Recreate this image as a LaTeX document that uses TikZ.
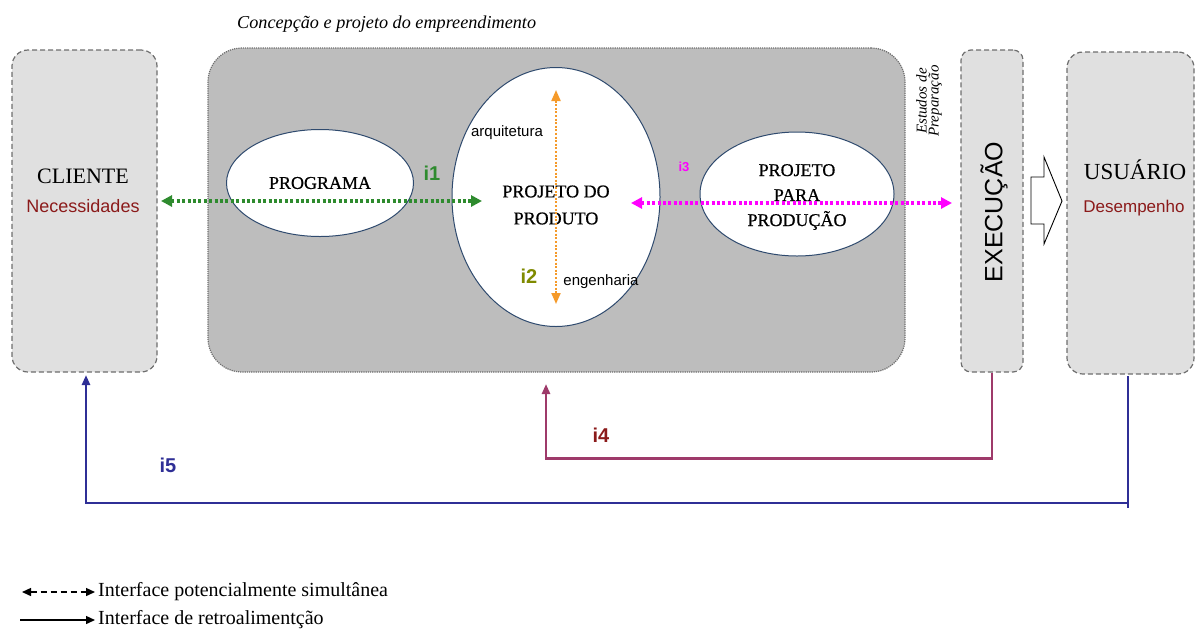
\documentclass[tikz,border=0pt]{standalone}
\usepackage{fontspec}
\setmainfont{Liberation Serif}
\setsansfont{Liberation Sans}
\newfontfamily\ellfont[FakeBold=0.6]{Liberation Serif}
\usetikzlibrary{shapes.geometric,arrows.meta,calc}
\definecolor{boxgray}{HTML}{E0E0E0}
\definecolor{biggray}{HTML}{BDBDBD}
\definecolor{gedge}{HTML}{6E6E6E}
\definecolor{igreen}{HTML}{2E8B2E}
\definecolor{imag}{HTML}{FF00FF}
\definecolor{iorange}{HTML}{F59A2A}
\definecolor{iolive}{HTML}{7F8A00}
\definecolor{ired}{HTML}{8B1A1A}
\definecolor{imaroon}{HTML}{9E3A6A}
\definecolor{inavy}{HTML}{2F2F96}
\definecolor{ellb}{HTML}{2F4A6E}
\tikzset{
  sidebox/.style={draw=gedge, dash pattern=on 5pt off 3pt, line width=1.2pt, fill=boxgray, rounded corners=16pt},
  ell/.style={ellipse, draw=ellb, line width=1pt, fill=white, inner sep=0pt},
  dotarrow/.style={line width=3.2pt, dash pattern=on 3pt off 2.4pt, {Triangle[length=11pt,width=11pt]}-{Triangle[length=11pt,width=11pt]}},
  fb/.style={line width=2.6pt, -{Triangle[length=10pt,width=8pt]}},
  ilabel/.style={font=\sffamily\bfseries, inner sep=0pt},
  etext/.style={font=\ellfont\fontsize{18}{26}\selectfont, align=center, inner sep=0pt},
}
\begin{document}
\begin{tikzpicture}[x=1pt,y=-1pt]
\useasboundingbox (0,0) rectangle (1196,633);
% title
\node[font=\itshape\fontsize{18.2}{19}\selectfont, anchor=west, inner sep=0pt] (title) at (237,24) {Concepção e projeto do empreendimento};
% big box
\node[draw=gedge, dash pattern=on 1.2pt off 1pt, line width=1.2pt, fill=biggray, rounded corners=34pt, minimum width=697pt, minimum height=324pt, inner sep=0pt] (big) at (556.5,210) {};
% side boxes
\node[sidebox, minimum width=145pt, minimum height=322pt] (cli) at (84.5,211) {};
\node[sidebox, rounded corners=10pt, minimum width=62pt, minimum height=322pt] (exe) at (992,211) {};
\node[sidebox, minimum width=127pt, minimum height=322pt] (usu) at (1130.5,213) {};
% texts in side boxes
\node[font=\fontsize{22}{24}\selectfont, inner sep=0pt] (cliT) at (83,176) {CLIENTE};
\node[font=\sffamily\fontsize{18}{20}\selectfont, text=ired, inner sep=0pt] (cliN) at (83,206) {Necessidades};
\node[font=\fontsize{23}{24}\selectfont, inner sep=0pt] (usuT) at (1135,170) {USUÁRIO};
\node[font=\sffamily\fontsize{17}{20}\selectfont, text=ired, inner sep=0pt] (usuD) at (1134,208) {Desempenho};
\node[font=\sffamily\fontsize{25}{26}\selectfont, rotate=90, inner sep=0pt] (exeT) at (994,212) {EXECUÇÃO};
\node[font=\itshape\fontsize{15}{15}\selectfont, rotate=90, align=center, inner sep=0pt] (est) at (929,101) {Estudos de\\[-3pt]Preparação};
% ellipses
\node[ell, minimum width=187pt, minimum height=107pt] (prog) at (320,183) {};
\node[ell, minimum width=208pt, minimum height=259pt] (prod) at (556,197) {};
\node[ell, minimum width=194pt, minimum height=124pt] (ppp) at (797,194) {};
\node[etext] (progT) at (320,183) {PROGRAMA};
\node[etext, font=\ellfont\fontsize{18}{27}\selectfont] (prodT) at (556,205) {PROJETO DO\\PRODUTO};
\node[etext, font=\ellfont\fontsize{18}{25}\selectfont] (pppT) at (797,197) {PROJETO\\PARA\\PRODUÇÃO};
% interface arrows
\coordinate (g1) at (161,201);
\coordinate (g2) at (482,201);
\draw[dotarrow, igreen] (g1) -- (g2);
\coordinate (m1) at (631,203);
\coordinate (m2) at (952,203);
\draw[dotarrow, imag] (m1) -- (m2);
\coordinate (o1) at (556,90);
\coordinate (o2) at (556,304);
\draw[line width=2pt, dash pattern=on 2pt off 1.6pt, iorange, {Triangle[length=11pt,width=9pt]}-{Triangle[length=11pt,width=9pt]}] (o1) -- (o2);
\node[ilabel, text=igreen, font=\sffamily\bfseries\fontsize{20}{20}\selectfont] (i1) at (432,173) {i1};
\node[ilabel, text=iolive, font=\sffamily\bfseries\fontsize{20}{20}\selectfont] (i2) at (529,276) {i2};
\node[ilabel, text=imag, font=\sffamily\bfseries\fontsize{13}{13}\selectfont] (i3) at (684,167) {i3};
\node[font=\sffamily\fontsize{15}{15}\selectfont, inner sep=0pt] (arq) at (507,133) {arquitetura};
\node[font=\sffamily\fontsize{15}{15}\selectfont, inner sep=0pt] (eng) at (601,282) {engenharia};
% block arrow
\draw[line width=0.9pt, fill=white] (1031,177) -- (1044,177) -- (1044,157) -- (1062,201) -- (1044,244) -- (1044,224) -- (1031,224) -- cycle;
% feedback lines
\coordinate (a4) at (546,384);
\draw[fb, imaroon] (exe.south) -- ++(0,86) -| (a4);
\node[ilabel, text=ired, font=\sffamily\bfseries\fontsize{20}{20}\selectfont] (i4) at (601,435) {i4};
\coordinate (a5) at (86,375);
\coordinate (u5) at (1128,376);
\draw[fb, inavy] (u5) -- (1128,503) -| (a5);
\draw[line width=2.4pt, inavy] (1128,498) -- (1128,508);
\node[ilabel, text=inavy, font=\sffamily\bfseries\fontsize{20}{20}\selectfont] (i5) at (168,465) {i5};
% legend
\coordinate (l1a) at (22,592);
\coordinate (l1b) at (95,592);
\coordinate (l2a) at (20,620);
\coordinate (l2b) at (95,620);
\draw[line width=1.4pt, dash pattern=on 6pt off 4pt, {Triangle[length=9pt,width=8pt]}-{Triangle[length=9pt,width=8pt]}] (l1a) -- (l1b);
\draw[line width=1.4pt, -{Triangle[length=9pt,width=8pt]}] (l2a) -- (l2b);
\node[anchor=west, font=\fontsize{20}{20}\selectfont, inner sep=0pt] (leg1) at (98,592) {Interface potencialmente simultânea};
\node[anchor=west, font=\fontsize{20}{20}\selectfont, inner sep=0pt] (leg2) at (98,620) {Interface de retroalimentção};
\end{tikzpicture}
\end{document}
